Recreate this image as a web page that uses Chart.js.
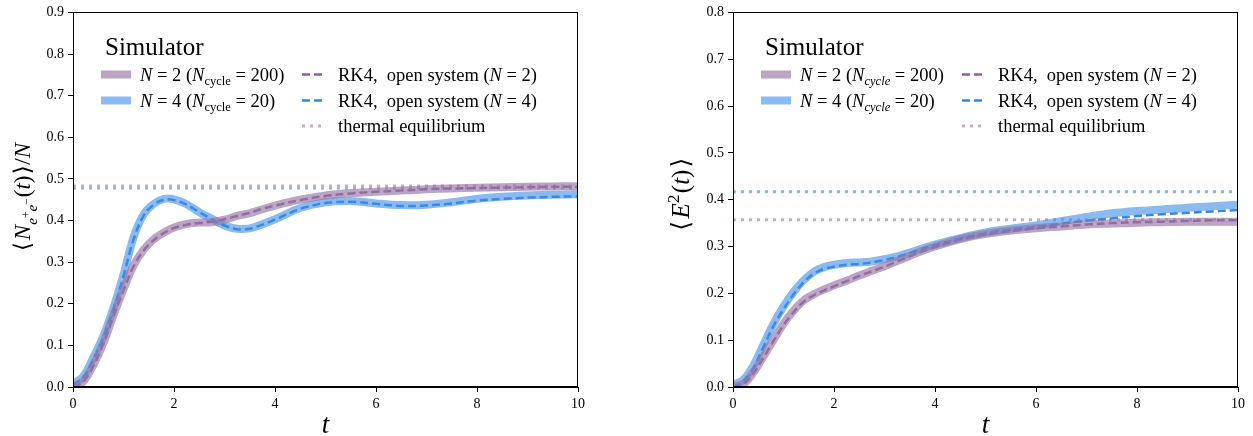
<!DOCTYPE html>
<html><head><meta charset="utf-8">
<script src="https://cdn.jsdelivr.net/npm/chart.js@4.4.1/dist/chart.umd.min.js"></script>
<style>
body{margin:0;background:#fff;width:1253px;height:436px;overflow:hidden;position:relative}
.box{position:absolute;top:0;height:436px}
</style></head><body>
<div class="box" style="left:0;width:626px"><canvas id="c1" width="626" height="436"></canvas></div>
<div class="box" style="left:626px;width:627px"><canvas id="c2" width="627" height="436"></canvas></div>
<script>
// ---- data ----
const T = [0,0.2,0.4,0.6,0.8,1.0,1.2,1.4,1.6,1.8,2.0,2.25,2.5,2.75,3.0,3.25,3.5,3.75,4.0,4.5,5.0,5.5,6.0,6.5,7.0,7.5,8.0,8.5,9.0,9.5,10];
const xTicks = [0,2,4,6,8,10];
// left panel: <N_{e+e-}(t)>/N
const pairSimN2 = [0.0,0.013,0.052,0.105,0.172,0.235,0.292,0.33,0.355,0.371,0.383,0.392,0.395,0.396,0.402,0.411,0.418,0.427,0.436,0.450,0.460,0.466,0.469,0.472,0.475,0.477,0.479,0.480,0.481,0.482,0.482];
const pairSimN4 = [0.008,0.025,0.07,0.122,0.19,0.27,0.36,0.415,0.44,0.452,0.451,0.439,0.42,0.404,0.388,0.380,0.381,0.391,0.403,0.430,0.444,0.447,0.441,0.437,0.438,0.444,0.452,0.457,0.460,0.462,0.463];
const pairRkN2  = [0.0,0.012,0.05,0.104,0.17,0.232,0.29,0.328,0.353,0.37,0.382,0.39,0.394,0.397,0.403,0.411,0.419,0.428,0.436,0.449,0.459,0.465,0.469,0.472,0.475,0.477,0.478,0.479,0.480,0.481,0.481];
const pairRkN4  = [0.006,0.022,0.066,0.118,0.186,0.266,0.355,0.412,0.438,0.45,0.449,0.438,0.42,0.403,0.388,0.379,0.380,0.390,0.402,0.428,0.442,0.445,0.440,0.435,0.436,0.441,0.448,0.452,0.455,0.457,0.458];
const pairThermal = {N2:0.483, N4:0.478};
const pairYTicks = [0,0.1,0.2,0.3,0.4,0.5,0.6,0.7,0.8,0.9];
// right panel: <E^2(t)>
const eSimN2 = [0.002,0.006,0.03,0.065,0.10,0.135,0.163,0.185,0.198,0.208,0.217,0.227,0.238,0.248,0.258,0.269,0.280,0.291,0.300,0.316,0.327,0.334,0.339,0.343,0.347,0.349,0.351,0.352,0.353,0.353,0.353];
const eSimN4 = [0.005,0.015,0.045,0.09,0.135,0.172,0.203,0.228,0.246,0.256,0.261,0.265,0.266,0.268,0.273,0.279,0.287,0.296,0.304,0.318,0.330,0.338,0.345,0.354,0.363,0.371,0.376,0.379,0.383,0.386,0.389];
const eRkN2  = [0.0,0.005,0.028,0.062,0.098,0.132,0.16,0.182,0.196,0.206,0.215,0.226,0.237,0.247,0.257,0.268,0.279,0.290,0.299,0.315,0.326,0.333,0.339,0.343,0.347,0.350,0.352,0.353,0.355,0.356,0.356];
const eRkN4  = [0.0,0.012,0.04,0.085,0.13,0.166,0.198,0.224,0.242,0.252,0.257,0.261,0.263,0.266,0.271,0.278,0.286,0.295,0.303,0.317,0.328,0.336,0.342,0.349,0.355,0.360,0.365,0.369,0.372,0.375,0.378];
const eThermal = {N2:0.357, N4:0.417};
const eYTicks = [0,0.1,0.2,0.3,0.4,0.5,0.6,0.7,0.8];

// ---- style ----
const SERIF = '"Liberation Serif", "DejaVu Serif", serif';
const C = {
  simN2:'rgba(150,115,165,0.65)', simN4:'rgba(60,140,230,0.6)',
  rkN2:'rgb(138,102,152)', rkN4:'rgb(55,135,225)',
  thN2:'rgb(200,172,206)', thN4:'rgb(135,182,236)'
};
const pts = arr => T.map((t,i)=>({x:t,y:arr[i]}));
const hline = v => [{x:xTicks[0],y:v},{x:xTicks[xTicks.length-1],y:v}];

function segWidth(ctx, s, size){
  ctx.font = (s.it?'italic ':'') + (size*(s.s||1)).toFixed(2)+'px '+SERIF;
  return ctx.measureText(s.t).width + (s.gap||0)*size;
}
function drawRich(ctx, x, y, segs, size, center){
  let total = 0;
  for(const s of segs) total += segWidth(ctx,s,size);
  let cx = center ? x - total/2 : x;
  ctx.textAlign='left'; ctx.textBaseline='alphabetic'; ctx.fillStyle='#000';
  for(const s of segs){
    const w = segWidth(ctx,s,size);
    ctx.fillText(s.t, cx + (s.pre||0)*size, y + (s.dy||0)*size);
    cx += w;
  }
}

function makeChart(id, cfg){
  const axisW = cfg.areaLeft, areaTop=11, areaBottom=387;
  const legendPlugin = {
    id:'custom'+id,
    afterDraw(chart){
      const ctx = chart.ctx, a = chart.chartArea;
      ctx.save();
      // frame
      ctx.strokeStyle='#000'; ctx.lineWidth=1;
      ctx.strokeRect(Math.round(a.left)+0.5, Math.round(a.top)+0.5, Math.round(a.right-a.left)-1, Math.round(a.bottom-a.top)-1);
      // legend
      const L = a.left;
      ctx.fillStyle='#000';
      ctx.font = '25px '+SERIF; ctx.textAlign='left'; ctx.textBaseline='alphabetic';
      ctx.fillText('Simulator', L+32, 55);
      const rows=[74.5,100.5,126];
      const line=(x1,x2,y,col,w,dash)=>{ctx.beginPath();ctx.setLineDash(dash);ctx.strokeStyle=col;ctx.lineWidth=w;ctx.lineCap='butt';ctx.moveTo(x1,y);ctx.lineTo(x2,y);ctx.stroke();ctx.setLineDash([]);};
      line(L+28,L+58,rows[0],C.simN2,8,[]);
      line(L+28,L+58,rows[1],C.simN4,8,[]);
      line(L+229,L+252,rows[0],C.rkN2,2.5,[8,4]);
      line(L+229,L+252,rows[1],C.rkN4,2.5,[8,4]);
      line(L+229,L+252,rows[2],C.thN2,3,[3,5]);
      const fs=18.5;
      const cyc = {t:'cycle', s:0.68, dy:0.22, it:cfg.italicCycle};
      const eq = ' = ';
      drawRich(ctx, L+67, rows[0]+6, [{t:'N',it:1},{t:eq+'2 ('},{t:'N',it:1},cyc,{t:eq+'200)'}], fs);
      drawRich(ctx, L+67, rows[1]+6, [{t:'N',it:1},{t:eq+'4 ('},{t:'N',it:1},cyc,{t:eq+'20)'}], fs);
      drawRich(ctx, L+265, rows[0]+6, [{t:'RK4,  open system ('},{t:'N',it:1},{t:eq+'2)'}], fs);
      drawRich(ctx, L+265, rows[1]+6, [{t:'RK4,  open system ('},{t:'N',it:1},{t:eq+'4)'}], fs);
      drawRich(ctx, L+265, rows[2]+6, [{t:'thermal equilibrium'}], fs);
      // x title
      drawRich(ctx, (a.left+a.right)/2, 433, [{t:'t',it:1}], 27, true);
      // y title
      ctx.translate(cfg.yTitleX, cfg.yTitleY);
      ctx.rotate(-Math.PI/2);
      drawRich(ctx, 0, 8, cfg.yTitle, cfg.yTitleSize, true);
      ctx.restore();
    }
  };
  return new Chart(document.getElementById(id), {
    type:'line',
    data:{datasets:[
      {data:pts(cfg.simN2), borderColor:C.simN2, borderWidth:8},
      {data:pts(cfg.simN4), borderColor:C.simN4, borderWidth:8},
      {data:pts(cfg.rkN2), borderColor:C.rkN2, borderWidth:2.5, borderDash:[8,4]},
      {data:pts(cfg.rkN4), borderColor:C.rkN4, borderWidth:2.5, borderDash:[8,4]},
      {data:hline(cfg.th.N2), borderColor:C.thN2, borderWidth:3, borderDash:[3,5], tension:0},
      {data:hline(cfg.th.N4), borderColor:C.thN4, borderWidth:3, borderDash:[3,5], tension:0}
    ]},
    options:{
      responsive:false, animation:false,
      layout:{padding:{left:0, top:areaTop, right:cfg.padRight, bottom:0}},
      elements:{point:{radius:0}, line:{tension:0.35, fill:false, capBezierPoints:true, borderJoinStyle:'round'}},
      plugins:{legend:{display:false}, tooltip:{enabled:false}},
      scales:{
        x:{type:'linear', min:xTicks[0], max:xTicks[xTicks.length-1],
           afterBuildTicks(s){s.ticks = xTicks.map(v=>({value:v}));},
           afterFit(s){s.height = 436-areaBottom;},
           grid:{drawOnChartArea:false, drawTicks:true, tickLength:5, color:'#000'},
           border:{display:true,color:'#000',width:1},
           ticks:{color:'#000', padding:4, maxRotation:0, font:{family:SERIF,size:14}, callback:v=>String(v)}},
        y:{type:'linear', min:cfg.yTicks[0], max:cfg.yTicks[cfg.yTicks.length-1],
           afterBuildTicks(s){s.ticks = cfg.yTicks.map(v=>({value:v}));},
           afterFit(s){s.width = axisW;},
           grid:{drawOnChartArea:false, drawTicks:true, tickLength:5, color:'#000'},
           border:{display:true,color:'#000',width:1},
           ticks:{color:'#000', padding:4, font:{family:SERIF,size:14}, callback:v=>Number(v).toFixed(1)}}
      }
    },
    plugins:[legendPlugin]
  });
}

makeChart('c1', {areaLeft:73, padRight:48, simN2:pairSimN2, simN4:pairSimN4, rkN2:pairRkN2, rkN4:pairRkN4, th:pairThermal, yTicks:pairYTicks, italicCycle:false, yTitleX:22, yTitleY:197, yTitleSize:23,
  yTitle:[{t:'⟨',gap:0.08},{t:'N',it:1},{t:'e',it:1,s:0.66,dy:0.3},{t:'+',s:0.5,dy:-0.02},{t:'e',it:1,s:0.66,dy:0.3},{t:'−',s:0.5,dy:-0.02,gap:0.05},{t:'('},{t:'t',it:1},{t:')'},{t:'⟩',pre:0.06,gap:0.08},{t:'/'},{t:'N',it:1}]});
makeChart('c2', {areaLeft:107, padRight:15, simN2:eSimN2, simN4:eSimN4, rkN2:eRkN2, rkN4:eRkN4, th:eThermal, yTicks:eYTicks, italicCycle:true, yTitleX:55, yTitleY:194, yTitleSize:25,
  yTitle:[{t:'⟨',gap:0.1},{t:'E',it:1},{t:'2',s:0.7,dy:-0.42,gap:0.05},{t:'('},{t:'t',it:1},{t:')'},{t:'⟩',pre:0.08,gap:0.1}]});
</script>
</body></html>
